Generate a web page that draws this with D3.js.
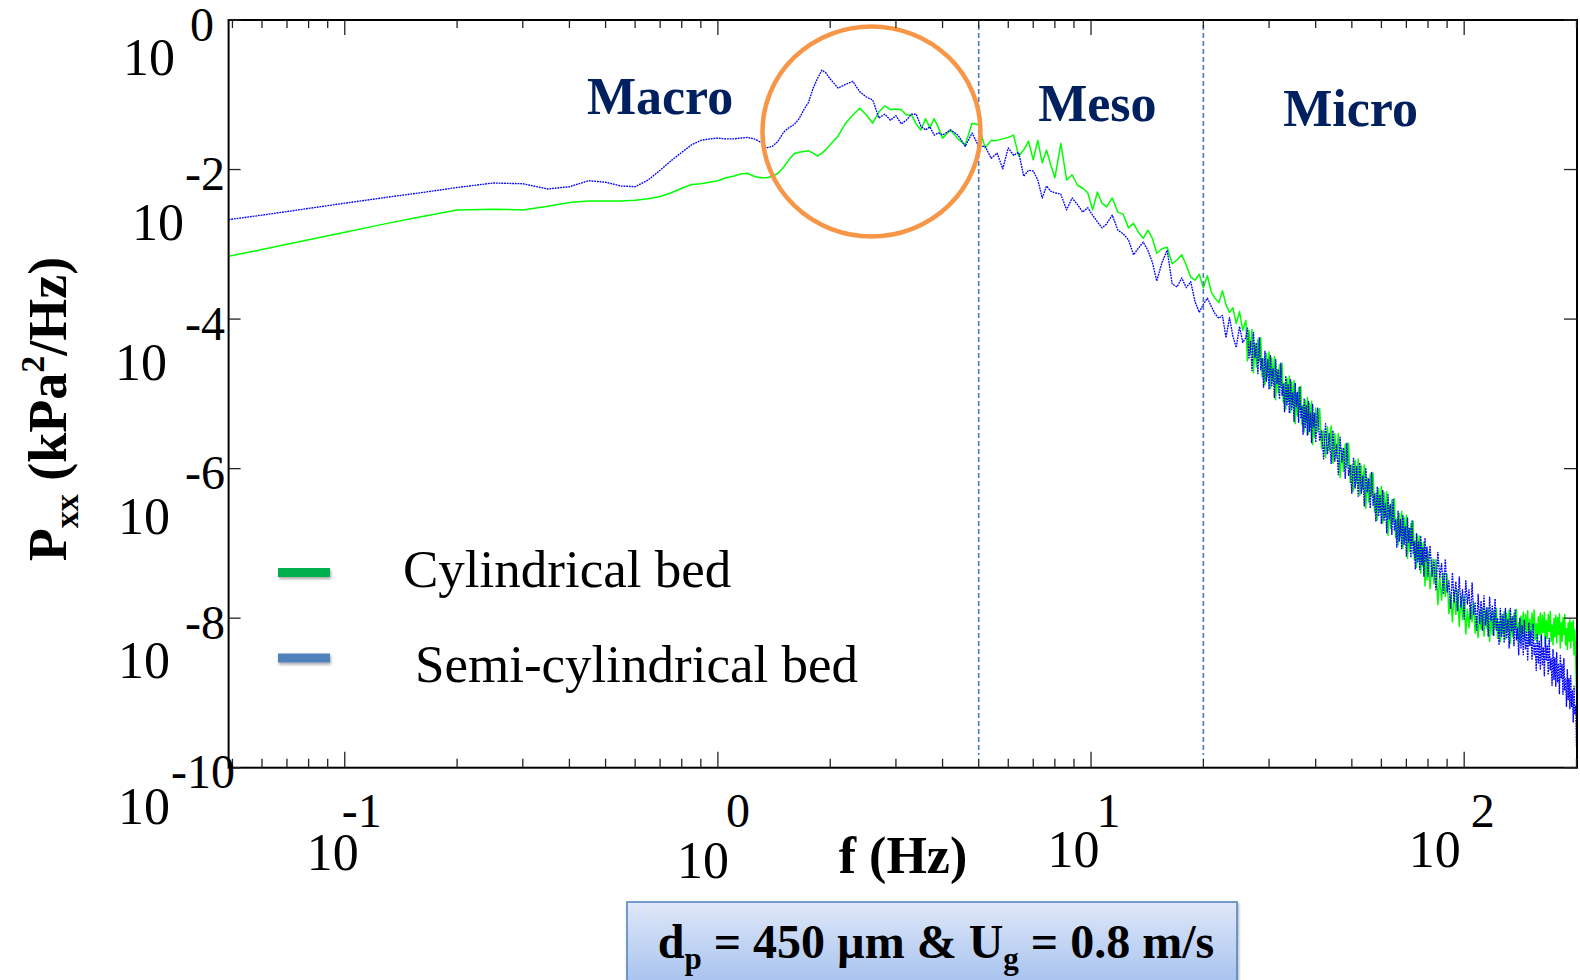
<!DOCTYPE html>
<html>
<head>
<meta charset="utf-8">
<script src="https://cdn.jsdelivr.net/npm/d3@7"></script>
<style>
  html, body { margin: 0; padding: 0; background: #ffffff; }
  svg { display: block; }
</style>
</head>
<body>
<svg id="chart" width="1580" height="980"></svg>
<script>
// ---- Data: pressure-fluctuation power spectra (log10 of Pxx in kPa^2/Hz) ----
const freqHz = [
  0.0488, 0.06, 0.08, 0.1, 0.13, 0.16, 0.2, 0.25, 0.3, 0.35, 0.4, 0.45, 0.5, 0.55, 0.6, 0.65, 0.7, 0.75, 0.8, 0.85, 0.9, 0.95, 1.0,
  1.05, 1.1, 1.15, 1.2, 1.25, 1.3, 1.35, 1.4, 1.45, 1.5, 1.55, 1.6, 1.65, 1.7, 1.75, 1.8, 1.85, 1.9, 1.95, 2.0,
  2.1, 2.2, 2.3, 2.4, 2.5, 2.6, 2.7, 2.8, 2.9, 3.0, 3.1, 3.2, 3.3, 3.4, 3.5, 3.6, 3.7, 3.8, 3.9, 4.0,
  4.2, 4.4, 4.6, 4.8, 5.0, 5.2, 5.4, 5.6, 5.8, 6.0, 6.2, 6.4, 6.6, 6.8, 7.0, 7.2, 7.4, 7.6, 7.8, 8.0,
  8.3, 8.6, 8.9, 9.2, 9.5, 9.8, 10.1, 10.4, 10.7, 11.0,
  11.4, 11.8, 12.2, 12.6, 13.0, 13.4, 13.8, 14.2, 14.6, 15.0,
  15.5, 16, 16.5, 17, 17.5, 18, 18.5, 19, 19.5, 20, 20.5, 21, 21.5, 22, 22.5, 23, 23.5, 24, 24.5, 25, 25.5, 26,
  26.25, 26.5, 26.75, 27, 27.25, 27.5, 27.75, 28, 28.25, 28.5, 28.75, 29, 29.25, 29.5, 29.75, 30,
  30.25, 30.5, 30.75, 31, 31.25, 31.5, 31.75, 32, 32.25, 32.5, 32.75, 33, 33.25, 33.5, 33.75, 34,
  34.25, 34.5, 34.75, 35, 35.25, 35.5, 35.75, 36, 36.25, 36.5, 36.75, 37, 37.25, 37.5, 37.75, 38,
  38.25, 38.5, 38.75, 39, 39.25, 39.5, 39.75, 40,
  40.5, 41, 41.5, 42, 42.5, 43, 43.5, 44, 44.5, 45, 45.5, 46, 46.5, 47, 47.5, 48,
  48.5, 49, 49.5, 50, 50.5, 51, 51.5, 52, 52.5, 53, 53.5, 54, 54.5, 55, 55.5, 56,
  56.5, 57, 57.5, 58, 58.5, 59, 59.5, 60, 60.5, 61, 61.5, 62, 62.5, 63, 63.5, 64,
  64.5, 65, 65.5, 66, 66.5, 67, 67.5, 68, 68.5, 69, 69.5, 70, 70.5, 71, 71.5, 72,
  72.5, 73, 73.5, 74, 74.5, 75, 75.5, 76, 76.5, 77, 77.5, 78, 78.5, 79, 79.5, 80,
  81, 82, 83, 84, 85, 86, 87, 88, 89, 90, 91, 92, 93, 94, 95, 96, 97, 98, 99, 100,
  101, 102, 103, 104, 105, 106, 107, 108, 109, 110, 111, 112, 113, 114, 115, 116, 117, 118, 119, 120,
  121, 122, 123, 124, 125, 126, 127, 128, 129, 130, 131, 132, 133, 134, 135, 136, 137, 138, 139, 140,
  141, 142, 143, 144, 145, 146, 147, 148, 149, 150, 151, 152, 153, 154, 155, 156, 157, 158, 159, 160,
  161, 162, 163, 164, 165, 166, 167, 168, 169, 170, 171, 172, 173, 174, 175, 176, 177, 178, 179, 180,
  181, 182, 183, 184, 185, 186, 187, 188, 189, 190, 191, 192, 193, 194, 195, 196, 197, 198, 199, 200
];

// Cylindrical bed
const psdCylLog10 = [
  -3.16, -3.07, -2.94, -2.84, -2.72, -2.63, -2.54, -2.53, -2.54, -2.49, -2.44, -2.42, -2.42, -2.42, -2.41, -2.39, -2.36, -2.31, -2.25, -2.20, -2.19, -2.17, -2.15,
  -2.11, -2.09, -2.06, -2.05, -2.09, -2.11, -2.11, -2.09, -2.05, -1.97, -1.87, -1.79, -1.77, -1.76, -1.75, -1.78, -1.82, -1.78, -1.73, -1.67,
  -1.55, -1.38, -1.27, -1.18, -1.27, -1.38, -1.23, -1.15, -1.20, -1.19, -1.20, -1.27, -1.27, -1.39, -1.47, -1.32, -1.44, -1.32, -1.44, -1.58,
  -1.47, -1.59, -1.67, -1.38, -1.40, -1.71, -1.61, -1.61, -1.59, -1.57, -1.54, -1.82, -1.74, -1.62, -1.87, -1.61, -1.91, -1.74, -1.94, -2.11,
  -1.65, -2.14, -2.07, -2.21, -2.25, -2.31, -2.54, -2.30, -2.45, -2.50,
  -2.38, -2.57, -2.60, -2.78, -2.72, -2.84, -2.92, -2.81, -2.92, -3.12,
  -3.06, -3.04, -3.26, -3.21, -3.14, -3.28, -3.44, -3.48, -3.40, -3.58, -3.42, -3.64, -3.72, -3.78, -3.62, -3.81, -3.91, -3.85, -4.06, -3.90, -4.15, -4.02,
  -4.56, -4.15, -4.47, -4.14, -4.72, -4.33, -4.64, -4.27, -4.57, -4.25, -4.77, -4.53, -4.88, -4.46, -4.77, -4.44,
  -4.93, -4.52, -4.83, -4.50, -5.08, -4.68, -4.99, -4.61, -4.91, -4.59, -5.11, -4.86, -5.21, -4.79, -5.10, -4.76,
  -5.25, -4.84, -5.15, -4.82, -5.40, -4.99, -5.30, -4.92, -5.22, -4.90, -5.41, -5.16, -5.51, -5.09, -5.39, -5.05,
  -5.54, -5.13, -5.43, -5.10, -5.68, -5.27, -5.58, -5.19,
  -5.51, -5.20, -5.73, -5.49, -5.85, -5.44, -5.76, -5.43, -5.93, -5.53, -5.85, -5.53, -6.12, -5.73, -6.04, -5.67,
  -5.98, -5.66, -6.19, -5.95, -6.30, -5.89, -6.20, -5.87, -6.36, -5.96, -6.27, -5.95, -6.53, -6.13, -6.45, -6.07,
  -6.37, -6.06, -6.58, -6.33, -6.69, -6.27, -6.58, -6.24, -6.73, -6.32, -6.64, -6.31, -6.89, -6.49, -6.80, -6.42,
  -6.72, -6.40, -6.92, -6.67, -7.02, -6.60, -6.91, -6.57, -7.06, -6.65, -6.95, -6.62, -7.20, -6.80, -7.11, -6.73,
  -7.02, -6.70, -7.22, -6.97, -7.32, -6.89, -7.22, -6.90, -7.40, -6.99, -7.31, -6.98, -7.57, -7.17, -7.49, -7.11,
  -7.61, -7.21, -7.54, -7.22, -7.82, -7.44, -7.76, -7.40, -7.71, -7.41, -7.94, -7.69, -8.05, -7.63, -7.95, -7.62, -8.11, -7.71, -8.02, -7.70,
  -8.21, -7.88, -8.13, -7.82, -8.05, -7.79, -8.20, -7.98, -8.26, -7.91, -8.15, -7.86, -8.24, -7.90, -8.13, -7.86, -8.31, -7.97, -8.22, -7.90,
  -8.14, -7.87, -8.27, -8.05, -8.32, -7.96, -8.20, -7.91, -8.28, -7.94, -8.17, -7.89, -8.34, -8.00, -8.25, -7.93, -8.15, -7.88, -8.28, -8.06,
  -8.33, -7.97, -8.21, -7.92, -8.29, -7.95, -8.18, -7.90, -8.35, -8.01, -8.25, -7.93, -8.16, -7.89, -8.29, -8.07, -8.34, -7.98, -8.22, -7.93,
  -8.30, -7.96, -8.19, -7.92, -8.37, -8.03, -8.27, -7.95, -8.18, -7.91, -8.31, -8.09, -8.36, -8.00, -8.25, -7.96, -8.33, -7.99, -8.22, -7.94,
  -8.40, -8.06, -8.31, -7.99, -8.22, -7.95, -8.36, -8.14, -8.42, -8.06, -8.31, -8.02, -8.40, -8.06, -8.30, -8.03, -8.49, -8.16, -8.55, -9.00
];

// Semi-cylindrical bed
const psdSemiLog10 = [
  -2.67, -2.61, -2.52, -2.45, -2.37, -2.31, -2.24, -2.18, -2.19, -2.26, -2.23, -2.15, -2.17, -2.22, -2.23, -2.14, -2.01, -1.88, -1.77, -1.67, -1.61, -1.59, -1.58,
  -1.59, -1.59, -1.58, -1.57, -1.59, -1.63, -1.71, -1.69, -1.62, -1.50, -1.44, -1.40, -1.32, -1.20, -1.10, -0.91, -0.78, -0.67, -0.71, -0.79,
  -0.91, -0.86, -0.82, -0.96, -1.03, -1.07, -1.31, -1.26, -1.34, -1.28, -1.39, -1.34, -1.26, -1.26, -1.42, -1.47, -1.43, -1.54, -1.51, -1.54,
  -1.47, -1.54, -1.69, -1.51, -1.69, -1.69, -1.85, -1.78, -1.99, -1.71, -1.81, -1.77, -2.09, -2.01, -2.02, -2.14, -2.38, -2.22, -2.29, -2.31,
  -2.33, -2.54, -2.38, -2.47, -2.57, -2.51, -2.61, -2.70, -2.78, -2.73,
  -2.61, -2.81, -2.86, -2.94, -3.14, -3.05, -2.97, -3.08, -3.24, -3.49,
  -3.24, -3.08, -3.53, -3.57, -3.45, -3.58, -3.50, -3.77, -3.91, -3.80, -3.72, -3.83, -3.93, -3.99, -3.95, -4.25, -3.98, -4.23, -4.38, -4.10, -4.31, -4.25,
  -4.12, -4.52, -4.30, -4.69, -4.18, -4.51, -4.32, -4.73, -4.25, -4.68, -4.53, -4.91, -4.43, -4.83, -4.54, -4.94,
  -4.49, -4.89, -4.66, -5.05, -4.54, -4.86, -4.67, -5.07, -4.59, -5.02, -4.87, -5.24, -4.76, -5.16, -4.87, -5.26,
  -4.81, -5.21, -4.98, -5.37, -4.86, -5.17, -4.98, -5.38, -4.90, -5.33, -5.17, -5.54, -5.06, -5.46, -5.16, -5.55,
  -5.10, -5.50, -5.26, -5.65, -5.14, -5.45, -5.26, -5.65,
  -5.19, -5.63, -5.49, -5.87, -5.40, -5.81, -5.53, -5.93, -5.49, -5.90, -5.68, -6.08, -5.58, -5.91, -5.72, -6.13,
  -5.66, -6.09, -5.95, -6.33, -5.85, -6.26, -5.97, -6.37, -5.92, -6.33, -6.10, -6.50, -5.99, -6.31, -6.13, -6.53,
  -6.05, -6.49, -6.34, -6.71, -6.24, -6.64, -6.35, -6.74, -6.29, -6.69, -6.47, -6.86, -6.35, -6.67, -6.48, -6.88,
  -6.40, -6.83, -6.68, -7.05, -6.57, -6.97, -6.68, -7.07, -6.62, -7.02, -6.78, -7.17, -6.66, -6.98, -6.79, -7.19,
  -6.70, -7.13, -6.98, -7.35, -6.87, -7.26, -6.97, -7.35, -6.90, -7.29, -7.06, -7.44, -6.93, -7.24, -7.05, -7.44,
  -7.03, -7.44, -7.22, -7.62, -7.12, -7.45, -7.27, -7.68, -7.21, -7.65, -7.50, -7.87, -7.39, -7.79, -7.51, -7.90, -7.45, -7.85, -7.62, -8.01,
  -7.50, -7.81, -7.62, -8.01, -7.53, -7.95, -7.80, -8.16, -7.68, -8.07, -7.77, -8.16, -7.70, -8.09, -7.86, -8.24, -7.72, -8.03, -7.84, -8.23,
  -7.74, -8.16, -8.00, -8.36, -7.87, -8.25, -7.95, -8.33, -7.87, -8.26, -8.02, -8.40, -7.87, -8.18, -7.98, -8.37, -7.88, -8.29, -8.13, -8.49,
  -8.00, -8.40, -8.10, -8.49, -8.03, -8.42, -8.19, -8.57, -8.06, -8.37, -8.17, -8.56, -8.08, -8.50, -8.34, -8.70, -8.21, -8.61, -8.31, -8.69,
  -8.23, -8.62, -8.39, -8.77, -8.25, -8.56, -8.36, -8.76, -8.27, -8.69, -8.54, -8.90, -8.42, -8.82, -8.53, -8.91, -8.46, -8.86, -8.62, -9.01,
  -8.50, -8.81, -8.62, -9.02, -8.54, -8.96, -8.81, -9.18, -8.69, -9.09, -8.81, -9.21, -8.77, -9.18, -8.97, -9.39, -8.91, -9.28, -9.17, -9.73
];

const seriesNames = ["Cylindrical bed", "Semi-cylindrical bed"];
const xTickExponents = [-1, 0, 1, 2];
const yTickExponents = [0, -2, -4, -6, -8, -10];
const scaleBoundariesHz = [5, 20];
const regionNames = ["Macro", "Meso", "Micro"];
const regionCentersHz = [0.7, 10.4, 49.6];
const highlightCenter = { f: 2.58, p: 0.0323 };

if (psdCylLog10.length !== freqHz.length || psdSemiLog10.length !== freqHz.length) {
  console.warn("series length mismatch", freqHz.length, psdCylLog10.length, psdSemiLog10.length);
}

// ---- Layout ----
const plot = { left: 228.6, right: 1577, top: 20, bottom: 767.7 };
const serif = "'Liberation Serif', 'Times New Roman', Times, serif";

const svg = d3.select("#chart");

const x = d3.scaleLog().domain([0.048828, 200]).range([plot.left, 1576.5]);
const y = d3.scaleLog().domain([1e-10, 1]).range([plot.bottom, plot.top]);

const defs = svg.append("defs");
defs.append("clipPath").attr("id", "plotClip")
  .append("rect")
  .attr("x", plot.left).attr("y", plot.top)
  .attr("width", plot.right - plot.left).attr("height", plot.bottom - plot.top);

const grad = defs.append("linearGradient").attr("id", "boxFill")
  .attr("x1", 0).attr("y1", 0).attr("x2", 0).attr("y2", 1);
grad.append("stop").attr("offset", "0%").attr("stop-color", "#dfe8f8");
grad.append("stop").attr("offset", "100%").attr("stop-color", "#a8c3ef");

const shadow = defs.append("filter").attr("id", "softShadow")
  .attr("x", "-20%").attr("y", "-20%").attr("width", "140%").attr("height", "160%");
shadow.append("feDropShadow").attr("dx", 1).attr("dy", 2).attr("stdDeviation", 1.5)
  .attr("flood-color", "#000").attr("flood-opacity", 0.35);

// ---- Spectra ----
const n = Math.min(freqHz.length, psdCylLog10.length, psdSemiLog10.length);
const cyl = d3.range(n).map(i => ({ f: freqHz[i], p: Math.pow(10, psdCylLog10[i]) }));
const semi = d3.range(n).map(i => ({ f: freqHz[i], p: Math.pow(10, psdSemiLog10[i]) }));

const line = d3.line().x(d => x(d.f)).y(d => y(d.p));

const curves = svg.append("g").attr("clip-path", "url(#plotClip)");
curves.append("path").datum(cyl)
  .attr("d", line)
  .attr("fill", "none")
  .attr("stroke", "#00ff00")
  .attr("stroke-width", 1.5)
  .attr("stroke-linejoin", "round");
curves.append("path").datum(semi)
  .attr("d", line)
  .attr("fill", "none")
  .attr("stroke", "#0000ff")
  .attr("stroke-width", 1.35)
  .attr("stroke-dasharray", "1.8,0.9")
  .attr("stroke-linejoin", "round");

// ---- Scale boundaries (dashed) ----
svg.append("g").selectAll("line").data(scaleBoundariesHz).join("line")
  .attr("x1", d => x(d)).attr("x2", d => x(d))
  .attr("y1", 25).attr("y2", 755)
  .attr("stroke", "#4a7ebb")
  .attr("stroke-width", 1.6)
  .attr("stroke-dasharray", "5,3");

// ---- Highlight ellipse ----
svg.append("ellipse")
  .attr("cx", x(highlightCenter.f))
  .attr("cy", y(highlightCenter.p))
  .attr("rx", 109).attr("ry", 105)
  .attr("fill", "none")
  .attr("stroke", "#f79646")
  .attr("stroke-width", 4.5);

// ---- Frame and ticks ----
svg.append("rect")
  .attr("x", plot.left).attr("y", plot.top)
  .attr("width", plot.right - plot.left).attr("height", plot.bottom - plot.top)
  .attr("fill", "none").attr("stroke", "#000").attr("stroke-width", 2);

const xTicks = x.ticks().filter(t => t >= 0.048828 && t <= 200);
const isMajor = t => Math.abs(Math.log10(t) - Math.round(Math.log10(t))) < 1e-9;

const tickG = svg.append("g").attr("stroke", "#222").attr("stroke-width", 1.3);
xTicks.forEach(t => {
  const xp = x(t);
  const major = isMajor(t);
  tickG.append("line").attr("x1", xp).attr("x2", xp)
    .attr("y1", plot.bottom).attr("y2", plot.bottom - (major ? 16 : 9));
  tickG.append("line").attr("x1", xp).attr("x2", xp)
    .attr("y1", plot.top).attr("y2", plot.top + (major ? 15 : 8));
});
yTickExponents.forEach(k => {
  const yp = y(Math.pow(10, k));
  tickG.append("line").attr("x1", plot.left).attr("x2", plot.left + 12).attr("y1", yp).attr("y2", yp);
  tickG.append("line").attr("x1", plot.right).attr("x2", plot.right - 13).attr("y1", yp).attr("y2", yp);
});

// ---- Tick labels (10 with raised exponent) ----
const yBaseEndX = [175, 184, 167, 170, 170, 170];
const yBaseDrop = [55, 70, 61, 65, 60, 56];
const yExpEndX = [214, 225, 225, 225, 225, 235];
const yLab = svg.append("g").attr("font-family", serif).attr("fill", "#000");
yTickExponents.forEach((k, i) => {
  const yp = y(Math.pow(10, k));
  yLab.append("text").attr("x", yExpEndX[i]).attr("y", yp + 20.5)
    .attr("text-anchor", "end").attr("font-size", 48).text(String(k));
  yLab.append("text").attr("x", yBaseEndX[i]).attr("y", yp + yBaseDrop[i])
    .attr("text-anchor", "end").attr("font-size", 52).text("10");
});

const xBaseEndShift = [14, 11, 8.5, -3.5];
const xBaseY = [870, 878, 867, 867];
const xExpShift = [-3, 8, 5.5, 6.5];
const xLab = svg.append("g").attr("font-family", serif).attr("fill", "#000");
xTickExponents.forEach((k, i) => {
  const xp = x(Math.pow(10, k));
  xLab.append("text").attr("x", xp + xExpShift[i]).attr("y", 827)
    .attr("text-anchor", "start").attr("font-size", 48).text(String(k));
  xLab.append("text").attr("x", xp + xBaseEndShift[i]).attr("y", xBaseY[i])
    .attr("text-anchor", "end").attr("font-size", 52).text("10");
});

// ---- Axis titles ----
svg.append("text")
  .attr("x", 903).attr("y", 873)
  .attr("text-anchor", "middle")
  .attr("font-family", serif).attr("font-weight", "bold").attr("font-size", 52)
  .text("f (Hz)");

const yTitle = svg.append("text")
  .attr("transform", "translate(66,409) rotate(-90)")
  .attr("text-anchor", "middle")
  .attr("font-family", serif).attr("font-weight", "bold").attr("font-size", 54);
yTitle.append("tspan").text("P");
yTitle.append("tspan").attr("font-size", 34).attr("dy", 12).text("xx");
yTitle.append("tspan").attr("dy", -12).text(" (kPa");
yTitle.append("tspan").attr("font-size", 34).attr("dy", -22).text("2");
yTitle.append("tspan").attr("dy", 22).text("/Hz)");

// ---- Region labels ----
const regionBaseline = [114, 121, 126];
svg.append("g").selectAll("text").data(regionNames).join("text")
  .attr("x", (d, i) => x(regionCentersHz[i]))
  .attr("y", (d, i) => regionBaseline[i])
  .attr("text-anchor", "middle")
  .attr("font-family", serif).attr("font-weight", "bold").attr("font-size", 52)
  .attr("fill", "#002060")
  .text(d => d);

// ---- Legend ----
const legendColors = ["#00b050", "#4f81bd"];
const legendRowY = [572.5, 658];
const legendTextX = [403, 415];
const legendTextY = [587, 682];
const leg = svg.append("g");
seriesNames.forEach((name, i) => {
  leg.append("rect")
    .attr("x", 278).attr("y", legendRowY[i] - 4.5)
    .attr("width", 52).attr("height", 9)
    .attr("fill", legendColors[i])
    .attr("filter", "url(#softShadow)");
  leg.append("text")
    .attr("x", legendTextX[i]).attr("y", legendTextY[i])
    .attr("font-family", serif).attr("font-size", 53).attr("fill", "#000")
    .text(name);
});

// ---- Operating-condition box ----
svg.append("rect")
  .attr("x", 627).attr("y", 902).attr("width", 610).attr("height", 80)
  .attr("fill", "url(#boxFill)")
  .attr("stroke", "#4f81bd").attr("stroke-width", 1.5)
  .attr("filter", "url(#softShadow)");
const cond = svg.append("text")
  .attr("x", 936).attr("y", 958)
  .attr("text-anchor", "middle")
  .attr("font-family", serif).attr("font-weight", "bold").attr("font-size", 48)
  .attr("fill", "#000");
cond.append("tspan").text("d");
cond.append("tspan").attr("font-size", 31).attr("dy", 11).text("p");
cond.append("tspan").attr("dy", -11).text(" = 450 \u00b5m & U");
cond.append("tspan").attr("font-size", 31).attr("dy", 11).text("g");
cond.append("tspan").attr("dy", -11).text(" = 0.8 m/s");
</script>
</body>
</html>
